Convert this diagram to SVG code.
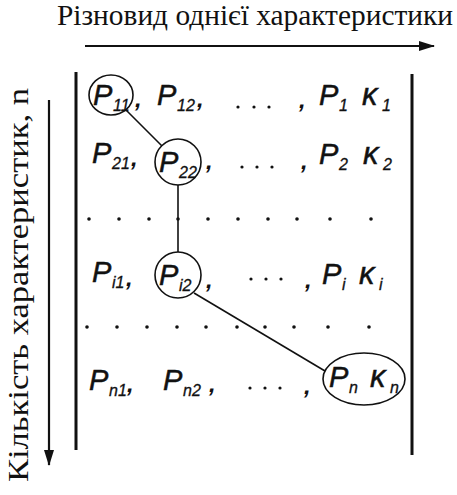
<svg xmlns="http://www.w3.org/2000/svg" width="457" height="495" viewBox="0 0 457 495">
<style>
.t{font-family:"Liberation Serif","Times New Roman",serif;font-size:29px;fill:#111}
.p{font-family:"Liberation Sans",Arial,sans-serif;font-style:italic;font-size:29px;fill:#111;stroke:#111;stroke-width:0.5}
.k{font-family:"Liberation Sans",Arial,sans-serif;font-style:italic;font-size:31px;fill:#111;stroke:#111;stroke-width:0.5}
.s{font-family:"Liberation Sans",Arial,sans-serif;font-style:italic;font-size:16px;fill:#111;stroke:#111;stroke-width:0.3}
.c{font-family:"Liberation Sans",Arial,sans-serif;font-style:italic;font-weight:bold;font-size:24px;fill:#111}
.ring{fill:none;stroke:#111;stroke-width:1.6}
.ln{stroke:#111;stroke-width:1.6;fill:none}
.bar{stroke:#111;stroke-width:3;fill:none}
.ax{stroke:#111;stroke-width:2.2;fill:none}
.d{fill:#111}
</style>
<defs>
<marker id="ah" markerWidth="16" markerHeight="10" refX="15" refY="5" orient="auto" markerUnits="userSpaceOnUse">
<path d="M0,0 L16,5 L0,10 Z" fill="#111"/>
</marker>
</defs>

<g id="axis-x">
<text class="t" x="57" y="25" textLength="396" lengthAdjust="spacingAndGlyphs">Різновид однієї характеристики</text>
<line class="ax" x1="85" y1="46" x2="434" y2="46" marker-end="url(#ah)"/>
</g>
<g id="axis-y">
<text class="t" transform="translate(28,482) rotate(-90)" textLength="394" lengthAdjust="spacingAndGlyphs">Кількість характеристик, n</text>
<line class="ax" x1="49" y1="100" x2="49" y2="465" marker-end="url(#ah)"/>
</g>

<g id="brackets">
<line class="bar" x1="76" y1="72" x2="76" y2="450"/>
<line class="bar" x1="412" y1="74" x2="412" y2="455"/>
</g>

<g id="connectors">
<line class="ln" x1="126" y1="110" x2="162" y2="146"/>
<line class="ln" x1="178" y1="185" x2="178" y2="252"/>
<line class="ln" x1="194" y1="293" x2="325" y2="371"/>
</g>

<g id="row1">
<g id="P11"><ellipse class="ring" cx="111" cy="95" rx="22" ry="20"/><text class="p" x="93" y="105">P</text><text class="s" x="113" y="111">11</text></g>
<text class="c" x="135" y="107">,</text>
<g id="P12"><text class="p" x="157" y="105">P</text><text class="s" x="177" y="111">12</text></g>
<text class="c" x="197" y="107">,</text>
<circle class="d" cx="238" cy="107" r="1.6"/><circle class="d" cx="254" cy="107" r="1.6"/><circle class="d" cx="269" cy="107" r="1.6"/>
<text class="c" x="299" y="108">,</text>
<g id="P1"><text class="p" x="319" y="105">P</text><text class="s" x="339" y="111">1</text></g>
<g id="K1"><text class="k" x="362" y="105">κ</text><text class="s" x="382" y="111">1</text></g>
</g>

<g id="row2">
<g id="P21"><text class="p" x="92" y="163">P</text><text class="s" x="112" y="169">21</text></g>
<text class="c" x="131" y="166">,</text>
<g id="P22"><circle class="ring" cx="178" cy="162" r="23"/><text class="p" x="159" y="172">P</text><text class="s" x="179" y="178">22</text></g>
<text class="c" x="206" y="169">,</text>
<circle class="d" cx="242" cy="167" r="1.6"/><circle class="d" cx="257" cy="167" r="1.6"/><circle class="d" cx="272" cy="167" r="1.6"/>
<text class="c" x="301" y="169">,</text>
<g id="P2"><text class="p" x="319" y="164">P</text><text class="s" x="339" y="170">2</text></g>
<g id="K2"><text class="k" x="363" y="164">κ</text><text class="s" x="383" y="170">2</text></g>
</g>

<g id="dots1">
<circle class="d" cx="89" cy="219" r="1.8"/><circle class="d" cx="119" cy="219" r="1.8"/><circle class="d" cx="149" cy="219" r="1.8"/><circle class="d" cx="178" cy="219" r="1.8"/><circle class="d" cx="208" cy="219" r="1.8"/><circle class="d" cx="238" cy="219" r="1.8"/><circle class="d" cx="268" cy="219" r="1.8"/><circle class="d" cx="297" cy="219" r="1.8"/><circle class="d" cx="330" cy="219" r="1.8"/><circle class="d" cx="371" cy="219" r="1.8"/>
</g>

<g id="rowi">
<g id="Pi1"><text class="p" x="92" y="282">P</text><text class="s" x="112" y="288">i1</text></g>
<text class="c" x="126" y="286">,</text>
<g id="Pi2"><circle class="ring" cx="178" cy="275" r="23"/><text class="p" x="159" y="285">P</text><text class="s" x="179" y="291">i2</text></g>
<text class="c" x="206" y="288">,</text>
<circle class="d" cx="251" cy="279" r="1.6"/><circle class="d" cx="266" cy="279" r="1.6"/><circle class="d" cx="281" cy="279" r="1.6"/>
<text class="c" x="305" y="288">,</text>
<g id="Pi"><text class="p" x="322" y="284">P</text><text class="s" x="342" y="290">i</text></g>
<g id="Ki"><text class="k" x="359" y="284">κ</text><text class="s" x="379" y="290">i</text></g>
</g>

<g id="dots2">
<circle class="d" cx="87" cy="327" r="1.8"/><circle class="d" cx="117" cy="327" r="1.8"/><circle class="d" cx="147" cy="327" r="1.8"/><circle class="d" cx="177" cy="327" r="1.8"/><circle class="d" cx="206" cy="327" r="1.8"/><circle class="d" cx="237" cy="327" r="1.8"/><circle class="d" cx="265" cy="327" r="1.8"/><circle class="d" cx="294" cy="327" r="1.8"/><circle class="d" cx="328" cy="327" r="1.8"/><circle class="d" cx="369" cy="327" r="1.8"/>
</g>

<g id="rown">
<g id="Pn1"><text class="p" x="89" y="390">P</text><text class="s" x="109" y="396">n1</text></g>
<text class="c" x="127" y="392">,</text>
<g id="Pn2"><text class="p" x="163" y="390">P</text><text class="s" x="183" y="396">n2</text></g>
<text class="c" x="209" y="392">,</text>
<circle class="d" cx="250" cy="388" r="1.6"/><circle class="d" cx="265" cy="388" r="1.6"/><circle class="d" cx="280" cy="388" r="1.6"/>
<text class="c" x="304" y="394">,</text>
<g id="PnKn"><ellipse class="ring" cx="364" cy="379" rx="41" ry="26"/><text class="p" x="329" y="387">P</text><text class="s" x="349" y="393">n</text><text class="k" x="370" y="387">κ</text><text class="s" x="390" y="393">n</text></g>
</g>
</svg>
